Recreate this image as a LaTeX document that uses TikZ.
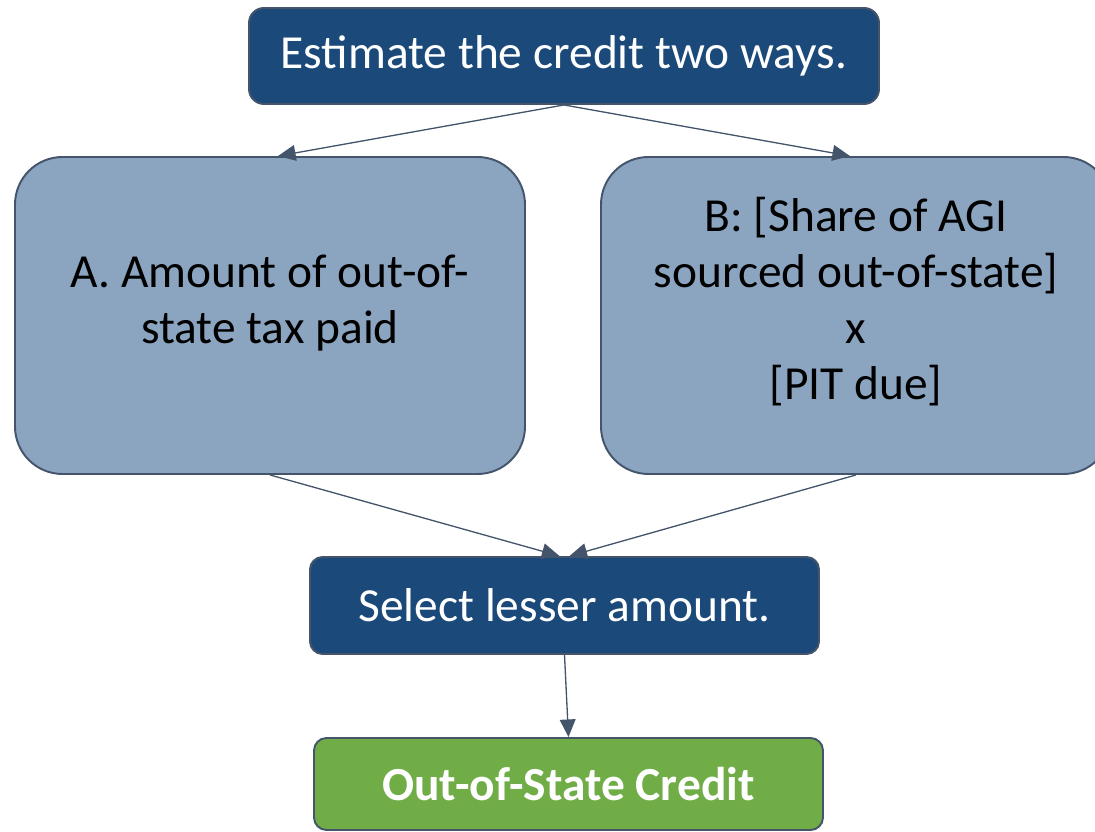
\documentclass[tikz,border=0pt]{standalone}
\usepackage{fontspec}
\setmainfont{Carlito}
\usetikzlibrary{arrows.meta}

\definecolor{darkbox}{RGB}{27,74,122}
\definecolor{lightbox}{RGB}{139,165,192}
\definecolor{greenbox}{RGB}{112,173,71}
\definecolor{edgegray}{RGB}{68,84,106}

\begin{document}
\begin{tikzpicture}[
    stepbox/.style={draw=edgegray, line width=1.1pt, align=center, inner sep=0pt,
                    font=\fontsize{27}{32}\selectfont},
    darkstep/.style={stepbox, fill=darkbox, text=white, rounded corners=0.3cm,
                     minimum width=12.6cm, minimum height=1.92cm},
    wayA/.style={stepbox, fill=lightbox, text=black, rounded corners=0.95cm,
                 minimum width=10.2cm, minimum height=6.34cm, text depth=5pt},
    flow/.style={->, >={Triangle[length=10pt,width=9pt]}, draw=edgegray, line width=0.75pt}
]
    \useasboundingbox (0,0) rectangle (21.9,-16.64);
    % Definitions
    \coordinate (Estimate) at (11.28,-1.12);
    \coordinate (WayA)     at (5.4,-6.31);
    \coordinate (WayB)     at (17.12,-6.31);
    \coordinate (Lesser)   at (11.29,-12.11);
    \coordinate (Credit)   at (11.37,-15.68);
    % Nodes
    \node(E) at (Estimate) [darkstep] {Estimate the credit two ways.};
    \node(A) at (WayA)     [wayA, text height=37pt] {A. Amount of out-of-\\state tax paid};
    \node(B) at (WayB)     [wayA, text height=101pt] {B: [Share of AGI\\sourced out-of-state]\\x\\{}[PIT due]};
    \node(S) at (Lesser)   [darkstep, minimum width=10.18cm, minimum height=1.94cm, rounded corners=0.25cm] {Select lesser amount.};
    \node(C) at (Credit)   [darkstep, fill=greenbox, minimum width=10.18cm, minimum height=1.84cm, rounded corners=0.25cm, font=\fontsize{27}{32}\selectfont\bfseries] {Out-of-State Credit};
    % Arrows
    \draw[flow] (E.south) -- ([xshift=0.16cm]A.north);
    \draw[flow] (E.south) -- ([xshift=-0.12cm]B.north);
    \draw[flow] (A.south) -- ([xshift=-0.1cm]S.north);
    \draw[flow] (B.south) -- ([xshift=0.1cm]S.north);
    \draw[flow] (S.south) -- (C.north);
\end{tikzpicture}
\end{document}
